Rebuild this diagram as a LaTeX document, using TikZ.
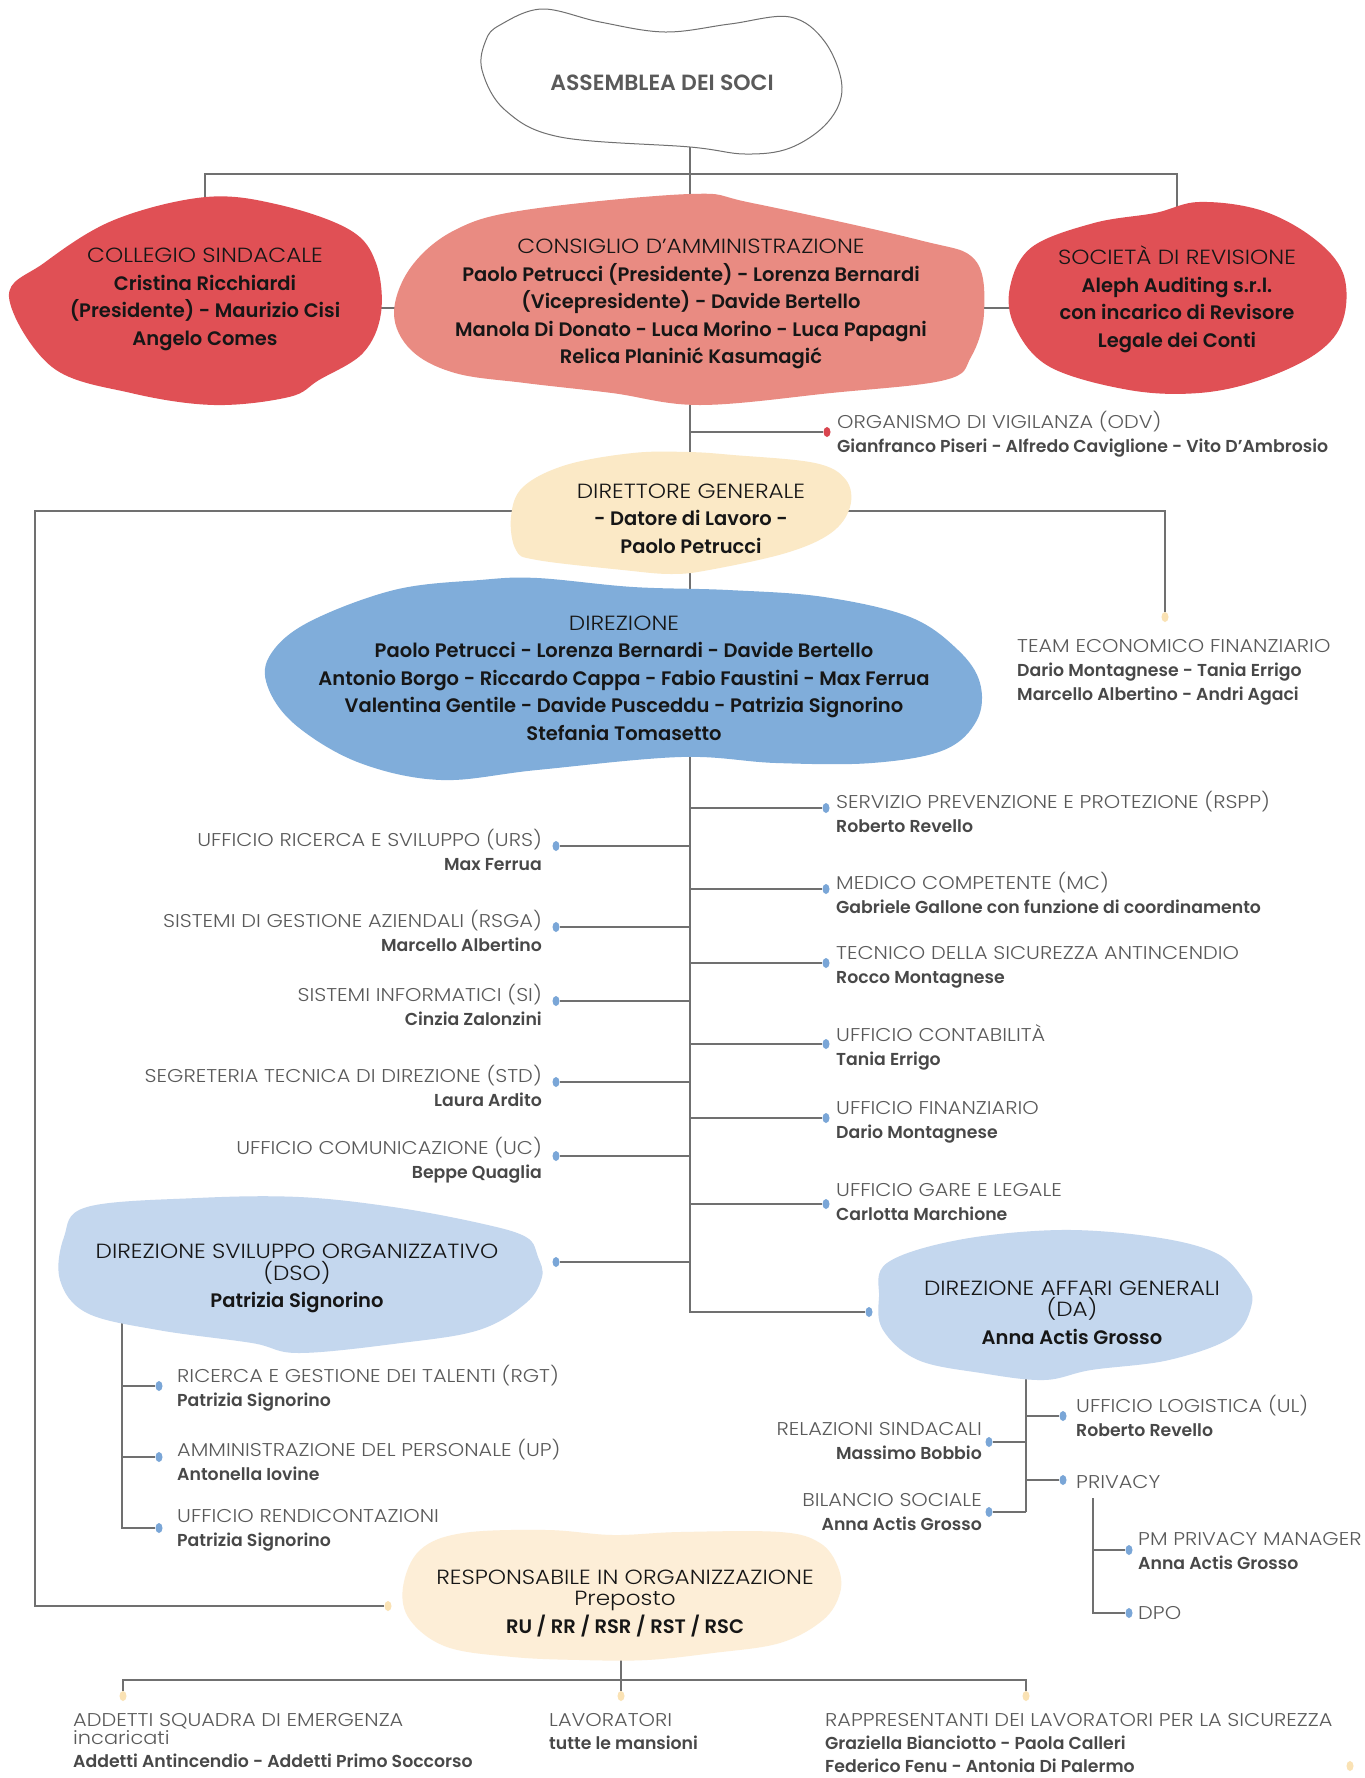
\documentclass[tikz,border=0pt]{standalone}
\usepackage{fontspec}
\IfFontExistsTF{Poppins SemiBold}{\setmainfont{Poppins}[BoldFont={Poppins SemiBold}]}{\setmainfont{Poppins}}
\IfFontExistsTF{Poppins Light}{\newfontfamily\LightFont{Poppins Light}[FakeStretch=1.13]}{\newfontfamily\LightFont{Poppins}[FakeStretch=1.13]}
\usetikzlibrary{shapes.geometric}
\definecolor{ColRed}{RGB}{224,80,85}
\definecolor{ColSalmon}{RGB}{233,139,130}
\definecolor{ColCream}{RGB}{251,233,198}
\definecolor{ColPale}{RGB}{253,238,215}
\definecolor{ColBlue}{RGB}{128,173,218}
\definecolor{ColSky}{RGB}{196,215,238}
\definecolor{ColLine}{RGB}{112,112,112}
\definecolor{ColInk}{RGB}{22,22,22}
\definecolor{ColGrey}{RGB}{90,90,90}
\definecolor{ColName}{RGB}{72,72,72}
\definecolor{ColDotB}{RGB}{122,166,215}
\definecolor{ColDotR}{RGB}{217,69,79}
\definecolor{ColDotC}{RGB}{250,226,180}
\newcommand{\Cap}[1]{{\mdseries\LightFont\fontsize{20.5}{27.5}\selectfont #1}}
\newcommand{\Tt}[1]{{\mdseries\LightFont\fontsize{18.5}{24}\selectfont\color{ColGrey}#1}}
\newcommand{\Nm}[1]{{\bfseries #1}}
\newcommand{\Blob}[2]{\fill[#1] plot[smooth cycle,tension=0.6] coordinates {#2};}
\tikzstyle{Wire}=[ColLine,line width=1.3pt]
\tikzstyle{BlobTxt}=[align=center,inner sep=0pt,text=ColInk,font=\bfseries\fontsize{19.5}{27.5}\selectfont]
\tikzstyle{LeafTxt}=[align=left,anchor=west,inner sep=0pt,text=ColName,font=\fontsize{17.3}{24}\selectfont]
\tikzstyle{LeafTxtL}=[LeafTxt,align=right,anchor=east]
\tikzstyle{Dot}=[ellipse,inner sep=0pt,minimum width=7pt,minimum height=10pt]
\tikzstyle{DotB}=[Dot,fill=ColDotB]
\tikzstyle{DotR}=[Dot,fill=ColDotR]
\tikzstyle{DotC}=[Dot,fill=ColDotC]
\begin{document}
\begin{tikzpicture}[x=1pt,y=-1pt]
\fill[white] (0,0) rectangle (1365,1778);
\useasboundingbox (0,0) rectangle (1365,1778);
% centres of the shapes and stems
\coordinate (assem) at (662,83);
\coordinate (collegio) at (205,299.5);
\coordinate (cda) at (691,304);
\coordinate (revis) at (1177,299.5);
\coordinate (dg) at (691,518.5);
\coordinate (dir) at (624,678);
\coordinate (dso) at (297,1278.5);
\coordinate (da) at (1072,1312.5);
\coordinate (resp) at (625,1603);
\coordinate (spine) at (690,140);
\coordinate (topbar) at (690,174);
\coordinate (midbar) at (690,308);
\coordinate (dgbar) at (690,511);
\coordinate (farleft) at (35,511);
\coordinate (dso-stem) at (122,1300);
\coordinate (da-stem) at (1026,1370);
\coordinate (priv-stem) at (1093,1498);
\coordinate (resp-stem) at (621,1650);
\coordinate (bbar) at (621,1680);
% dots
\node[DotR](odv-d)at(827,432){};
\node[DotC](team-d)at(1165,617){};
\node[DotC](resp-d)at(388,1606){};
\node[DotB](rspp-d)at(826,808){};
\node[DotB](mc-d)at(826,889){};
\node[DotB](tec-d)at(826,963){};
\node[DotB](cont-d)at(826,1044){};
\node[DotB](fin-d)at(826,1118){};
\node[DotB](gare-d)at(826,1204){};
\node[DotB](urs-d)at(556,846){};
\node[DotB](rsga-d)at(556,927){};
\node[DotB](si-d)at(556,1001){};
\node[DotB](std-d)at(556,1082){};
\node[DotB](uc-d)at(556,1156){};
\node[DotB](dso-d)at(556,1262){};
\node[DotB](da-d)at(869,1312){};
\node[DotB](rgt-d)at(159,1386){};
\node[DotB](up-d)at(159,1457){};
\node[DotB](rend-d)at(159,1528){};
\node[DotB](ul-d)at(1063,1416){};
\node[DotB](priv-d)at(1063,1480){};
\node[DotB](rel-d)at(989,1442){};
\node[DotB](bil-d)at(989,1512){};
\node[DotB](pm-d)at(1129,1550){};
\node[DotB](dpo-d)at(1129,1613){};
\node[DotC](add-d)at(123,1696){};
\node[DotC](lav-d)at(621,1696){};
\node[DotC](rls-d)at(1026,1696){};
\node[DotC](end-d)at(1350,1766){};
% wires
\draw[Wire](spine)|-(da-d);
\draw[Wire](collegio)|-(topbar)-|(revis);
\draw[Wire](collegio|-midbar)--(revis|-midbar);
\draw[Wire](odv-d-|spine)--(odv-d);
\draw[Wire](team-d)|-(dgbar)-|(farleft)|-(resp-d);
\foreach \d in {rspp-d,mc-d,tec-d,cont-d,fin-d,gare-d,urs-d,rsga-d,si-d,std-d,uc-d,dso-d}
  \draw[Wire](\d-|spine)--(\d);
\draw[Wire](dso-stem)|-(rend-d);
\draw[Wire](dso-stem|-rgt-d)--(rgt-d);
\draw[Wire](dso-stem|-up-d)--(up-d);
\draw[Wire](da-stem)--(da-stem|-bil-d);
\foreach \d in {ul-d,priv-d,rel-d,bil-d}
  \draw[Wire](da-stem|-\d)--(\d);
\draw[Wire](priv-stem)|-(dpo-d);
\draw[Wire](priv-stem|-pm-d)--(pm-d);
\draw[Wire](resp-stem)--(bbar);
\draw[Wire](add-d)|-(bbar)-|(rls-d);
\draw[Wire](bbar)--(lav-d);
% shapes
\draw[ColLine,line width=1pt,fill=white] plot[smooth cycle,tension=0.6] coordinates {(500,25)(542,9)(600,22)(665,32)(730,24)(790,17)(825,42)(842,87)(828,122)(790,148)(745,154)(690,147)(560,137)(505,110)(482,70)(486,40)};
\Blob{ColRed}{(206,197)(280,205)(350,230)(376,263)(381,313)(363,353)(319,380)(289,397)(214,405)(131,393)(52,367)(9,297)(44,263)(114,220)}
\Blob{ColSalmon}{(690,194)(752,203)(919,240)(975,260)(984,313)(971,357)(945,380)(831,393)(700,405)(612,393)(525,383)(455,373)(411,350)(394,313)(411,267)(455,230)(525,210)}
\Blob{ColRed}{(1199,202)(1260,210)(1312,237)(1343,273)(1343,320)(1317,353)(1260,380)(1199,393)(1129,390)(1050,367)(1015,327)(1010,287)(1032,247)(1094,223)(1155,213)}
\Blob{ColCream}{(688,452)(733,455)(815,463)(846,480)(850,507)(831,533)(786,553)(709,570)(671,574)(623,570)(537,560)(516,550)(511,517)(523,487)(566,465)(633,453)}
\Blob{ColBlue}{(480,580)(394,590)(307,623)(269,657)(269,690)(298,727)(360,763)(441,780)(537,770)(681,757)(776,763)(872,763)(944,750)(977,720)(980,683)(958,650)(910,617)(824,597)(728,590)(633,587)(537,578)}
\Blob{ColSky}{(87,1207)(197,1198)(299,1197)(393,1207)(479,1223)(526,1237)(538,1257)(542,1277)(526,1303)(479,1330)(401,1343)(299,1353)(252,1343)(158,1330)(87,1313)(60,1280)(64,1237)}
\Blob{ColSky}{(1060,1230)(1154,1237)(1216,1253)(1244,1280)(1252,1303)(1232,1337)(1169,1360)(1091,1370)(1044,1380)(981,1373)(918,1360)(883,1330)(879,1297)(887,1263)(958,1240)}
\Blob{ColPale}{(420,1550)(463,1533)(547,1530)(613,1535)(680,1532)(780,1532)(820,1543)(838,1567)(840,1593)(823,1620)(780,1643)(713,1653)(647,1660)(580,1660)(513,1657)(447,1647)(410,1620)(403,1587)}
% texts in the shapes
\node[BlobTxt,text=ColGrey,font=\bfseries\fontsize{22}{24}\selectfont](assem-t)at(assem){ASSEMBLEA DEI SOCI};
\node[BlobTxt](collegio-t)at(collegio){\Cap{COLLEGIO SINDACALE}\\Cristina Ricchiardi\\(Presidente) - Maurizio Cisi\\Angelo Comes};
\node[BlobTxt](cda-t)at(cda){\Cap{CONSIGLIO D’AMMINISTRAZIONE}\\Paolo Petrucci (Presidente) - Lorenza Bernardi\\(Vicepresidente) - Davide Bertello\\Manola Di Donato - Luca Morino - Luca Papagni\\Relica Planinić Kasumagić};
\node[BlobTxt](revis-t)at(revis){\Cap{SOCIETÀ DI REVISIONE}\\Aleph Auditing s.r.l.\\con incarico di Revisore\\Legale dei Conti};
\node[BlobTxt](dg-t)at(dg){\Cap{DIRETTORE GENERALE}\\- Datore di Lavoro -\\Paolo Petrucci};
\node[BlobTxt](dir-t)at(dir){\Cap{DIREZIONE}\\Paolo Petrucci - Lorenza Bernardi - Davide Bertello\\Antonio Borgo - Riccardo Cappa - Fabio Faustini - Max Ferrua\\Valentina Gentile - Davide Pusceddu - Patrizia Signorino\\Stefania Tomasetto};
\node[BlobTxt](dso-t)at(dso){\Cap{DIREZIONE SVILUPPO ORGANIZZATIVO}\\[-6pt]\Cap{(DSO)}\\Patrizia Signorino};
\node[BlobTxt](da-t)at(da){\Cap{DIREZIONE AFFARI GENERALI}\\[-6pt]\Cap{(DA)}\\Anna Actis Grosso};
\node[BlobTxt](resp-t)at(resp){\Cap{RESPONSABILE IN ORGANIZZAZIONE}\\[-6pt]\Cap{Preposto}\\RU / RR / RSR / RST / RSC};
% texts beside the dots
\node[LeafTxt](odv-t)at(837,434.5){\Tt{ORGANISMO DI VIGILANZA (ODV)}\\\Nm{Gianfranco Piseri - Alfredo Caviglione - Vito D’Ambrosio}};
\node[LeafTxt](team-t)at(1017,672){\Tt{TEAM ECONOMICO FINANZIARIO}\\\Nm{Dario Montagnese - Tania Errigo}\\\Nm{Marcello Albertino - Andri Agaci}};
\node[LeafTxt](rspp-t)at(836,812){\Tt{SERVIZIO PREVENZIONE E PROTEZIONE (RSPP)}\\\Nm{Roberto Revello}};
\node[LeafTxt](mc-t)at(836,893){\Tt{MEDICO COMPETENTE (MC)}\\\Nm{Gabriele Gallone con funzione di coordinamento}};
\node[LeafTxt](tec-t)at(836,967){\Tt{TECNICO DELLA SICUREZZA ANTINCENDIO}\\\Nm{Rocco Montagnese}};
\node[LeafTxt](cont-t)at(836,1047.5){\Tt{UFFICIO CONTABILITÀ}\\\Nm{Tania Errigo}};
\node[LeafTxt](fin-t)at(836,1122){\Tt{UFFICIO FINANZIARIO}\\\Nm{Dario Montagnese}};
\node[LeafTxt](gare-t)at(836,1202.5){\Tt{UFFICIO GARE E LEGALE}\\\Nm{Carlotta Marchione}};
\node[LeafTxtL](urs-t)at(542,850){\Tt{UFFICIO RICERCA E SVILUPPO (URS)}\\\Nm{Max Ferrua}};
\node[LeafTxtL](rsga-t)at(542,931){\Tt{SISTEMI DI GESTIONE AZIENDALI (RSGA)}\\\Nm{Marcello Albertino}};
\node[LeafTxtL](si-t)at(542,1005){\Tt{SISTEMI INFORMATICI (SI)}\\\Nm{Cinzia Zalonzini}};
\node[LeafTxtL](std-t)at(542,1086){\Tt{SEGRETERIA TECNICA DI DIREZIONE (STD)}\\\Nm{Laura Ardito}};
\node[LeafTxtL](uc-t)at(542,1160){\Tt{UFFICIO COMUNICAZIONE (UC)}\\\Nm{Beppe Quaglia}};
\node[LeafTxt](rgt-t)at(177,1388.5){\Tt{RICERCA E GESTIONE DEI TALENTI (RGT)}\\\Nm{Patrizia Signorino}};
\node[LeafTxt](up-t)at(177,1459.5){\Tt{AMMINISTRAZIONE DEL PERSONALE (UP)}\\\Nm{Antonella Iovine}};
\node[LeafTxt](rend-t)at(177,1530.5){\Tt{UFFICIO RENDICONTAZIONI}\\\Nm{Patrizia Signorino}};
\node[LeafTxt](ul-t)at(1076,1416){\Tt{UFFICIO LOGISTICA (UL)}\\\Nm{Roberto Revello}};
\node[LeafTxt](priv-t)at(1076,1482){\Tt{PRIVACY}};
\node[LeafTxtL](rel-t)at(982,1441.5){\Tt{RELAZIONI SINDACALI}\\\Nm{Massimo Bobbio}};
\node[LeafTxtL](bil-t)at(982,1512){\Tt{BILANCIO SOCIALE}\\\Nm{Anna Actis Grosso}};
\node[LeafTxt](pm-t)at(1138,1551){\Tt{PM PRIVACY MANAGER}\\\Nm{Anna Actis Grosso}};
\node[LeafTxt](dpo-t)at(1138,1613){\Tt{DPO}};
\node[LeafTxt,anchor=north west,font=\fontsize{17.3}{23}\selectfont](add-t)at(73,1713){\Tt{ADDETTI SQUADRA DI EMERGENZA}\\[-5pt]\Tt{incaricati}\\\Nm{Addetti Antincendio - Addetti Primo Soccorso}};
\node[LeafTxt,anchor=north west,font=\fontsize{17.3}{23}\selectfont](lav-t)at(549,1713){\Tt{LAVORATORI}\\\Nm{tutte le mansioni}};
\node[LeafTxt,anchor=north west,font=\fontsize{17.3}{23}\selectfont](rls-t)at(825,1713){\Tt{RAPPRESENTANTI DEI LAVORATORI PER LA SICUREZZA}\\\Nm{Graziella Bianciotto - Paola Calleri}\\\Nm{Federico Fenu - Antonia Di Palermo}};
\end{tikzpicture}
\end{document}
